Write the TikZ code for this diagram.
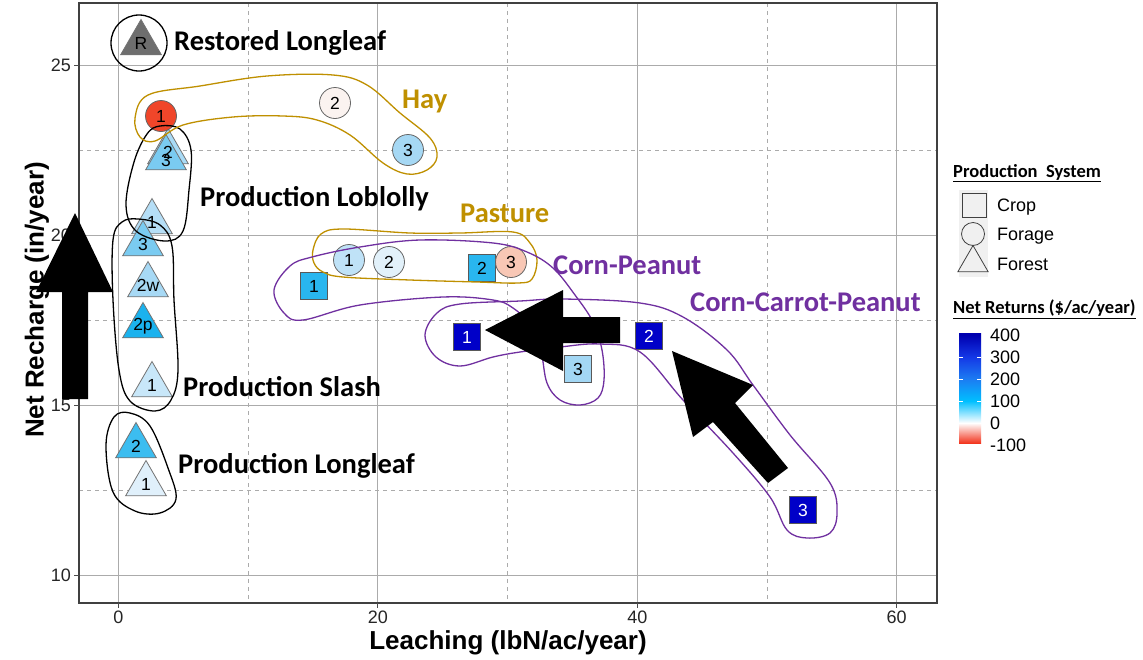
\documentclass[tikz,border=0pt]{standalone}
\usepackage{fontspec}
\setmainfont{Liberation Sans}
\newfontfamily\carl{Carlito}
\usetikzlibrary{shapes.geometric}
\definecolor{gold}{HTML}{BF9000}
\definecolor{purp}{HTML}{7030A0}
\definecolor{cred}{HTML}{F2361F}
\definecolor{dsb}{HTML}{00BFFF}
\definecolor{cb200}{HTML}{1C7CF2}
\definecolor{cb300}{HTML}{1438E6}
\definecolor{cb400}{HTML}{0000B0}
\definecolor{flob2}{HTML}{A9DBF6}
\definecolor{fmid}{HTML}{7ACBF1}
\definecolor{flob1}{HTML}{B5DEF6}
\definecolor{fsl2w}{HTML}{A7D9F5}
\definecolor{fsl2p}{HTML}{1AB2EE}
\definecolor{fsl1}{HTML}{C8E7F9}
\definecolor{fll2}{HTML}{3CBDF0}
\definecolor{fll1}{HTML}{E0F0FB}
\definecolor{fhay1}{HTML}{F0462A}
\definecolor{fhay2}{HTML}{FBF3F0}
\definecolor{fhay3}{HTML}{A6D8F4}
\definecolor{fpas1}{HTML}{BFE2F7}
\definecolor{fpas2}{HTML}{E2F1FA}
\definecolor{fpas3}{HTML}{F8C7B5}
\definecolor{fcp}{HTML}{29B6EF}
\definecolor{fcp3}{HTML}{A3D7F4}
\definecolor{fccp}{HTML}{0000C8}
\pgfdeclareverticalshading{netret}{100bp}{color(0bp)=(cred); color(25bp)=(cred); color(34.1bp)=(white); color(44.1bp)=(dsb); color(54.1bp)=(cb200); color(64.1bp)=(cb300); color(74.1bp)=(cb400); color(100bp)=(cb400)}
\begin{document}
\begin{tikzpicture}[x=1pt,y=-1pt,
  gmaj/.style={draw=black!33, line width=1.1},
  gmin/.style={draw=black!33, line width=1.0, dash pattern=on 4pt off 4pt},
  tickl/.style={font=\fontsize{18}{20}\selectfont, text=black!85, inner sep=0},
  axt/.style={font=\bfseries\fontsize{26}{28}\selectfont, inner sep=0},
  lab/.style={font=\carl\bfseries\fontsize{28.5}{31}\selectfont, anchor=west, inner sep=0},
  ptf/.style={font=\fontsize{17.5}{19}\selectfont, inner sep=0},
  fpt/.style={circle, draw=black!60, line width=0.8, minimum size=31pt, inner sep=0, ptf},
  cpt/.style={rectangle, draw=black!65, line width=0.8, minimum size=27pt, inner sep=0, ptf},
  tpt/.style={regular polygon, regular polygon sides=3, draw=black!55, line width=0.8, minimum size=47pt, inner sep=0},
  kloop/.style={draw=black, line width=1.3},
  gloop/.style={draw=gold, line width=1.3},
  ploop/.style={draw=purp, line width=1.3},
  legt/.style={font=\carl\bfseries\fontsize{18.5}{21}\selectfont, anchor=west, inner sep=0},
  legl/.style={font=\fontsize{18}{20}\selectfont, anchor=west, inner sep=0},
  bigarrow/.style={fill=black}]
\useasboundingbox (0,0) rectangle (1143,659);
\fill[white] (0,0) rectangle (1143,659);
% grid
\foreach \v in {12.5,17.5,22.5} \draw[gmin] (79,{575.3-34*(\v-10)}) -- (937,{575.3-34*(\v-10)});
\foreach \v in {10,30,50} \draw[gmin] ({118.5+12.97*\v},3) -- ({118.5+12.97*\v},603);
\foreach \v in {10,15,20,25} \draw[gmaj] (79,{575.3-34*(\v-10)}) -- (937,{575.3-34*(\v-10)});
\foreach \v in {0,20,40,60} \draw[gmaj] ({118.5+12.97*\v},3) -- ({118.5+12.97*\v},603);
\draw[line width=1.3, black!75] (79,3) rectangle (937,603);
% ticks
\foreach \v in {10,15,20,25} {
  \draw[line width=1, black!70] (74,{575.3-34*(\v-10)}) -- (79,{575.3-34*(\v-10)});
  \node[tickl, anchor=east] (yt\v) at (71,{575.3-34*(\v-10)}) {\v};
}
\foreach \v in {0,20,40,60} {
  \draw[line width=1, black!70] ({118.5+12.97*\v},603) -- ({118.5+12.97*\v},608);
  \node[tickl, anchor=north] (xt\v) at ({118.5+12.97*\v},611) {\v};
}
\node[axt] (xtitle) at (508,643) {Leaching (lbN/ac/year)};
\node[axt, rotate=90] (ytitle) at (37,300) {Net Recharge (in/year)};
% forest points
\node[tpt, fill=black!57] (rl) at (141,43) {};
\node[tpt, fill=flob2] (lob2) at (168,152) {};
\node[tpt, fill=fmid] (lob3) at (166,158) {};
\node[tpt, fill=flob1] (lob1) at (152,222) {};
\node[tpt, fill=fmid] (sl3) at (143,244) {};
\node[tpt, fill=fsl2w] (sl2w) at (148,285) {};
\node[tpt, fill=fsl2p] (sl2p) at (143,326) {};
\node[tpt, fill=fsl1] (sl1) at (152,385) {};
\node[tpt, fill=fll2] (ll2) at (136,446) {};
\node[tpt, fill=fll1] (ll1) at (146,484) {};
\node[ptf] (rlt) at (rl) {R};
\node[ptf] (lob2t) at (lob2) {2};
\node[ptf] (lob3t) at ([yshift=-2pt]lob3) {3};
\node[ptf] (lob1t) at (lob1) {1};
\node[ptf] (sl3t) at (sl3) {3};
\node[ptf] (sl2wt) at (sl2w) {2w};
\node[ptf] (sl2pt) at (sl2p) {2p};
\node[ptf] (sl1t) at (sl1) {1};
\node[ptf] (ll2t) at (ll2) {2};
\node[ptf] (ll1t) at (ll1) {1};
% forage points
\node[fpt, fill=fhay1] (hay1) at (161,116) {1};
\node[fpt, fill=fhay2] (hay2) at (335,103) {2};
\node[fpt, fill=fhay3] (hay3) at (408,150) {3};
\node[fpt, fill=fpas1] (pas1) at (349,260) {1};
\node[fpt, fill=fpas2] (pas2) at (389,262) {2};
% crop points
\node[cpt, fill=fcp] (cp1) at (314,286) {1};
\node[cpt, fill=fcp] (cp2) at (482,268) {2};
\node[fpt, fill=fpas3] (pas3) at (511,262) {3};
\node[cpt, fill=fcp3] (cp3) at (578,369) {3};
\node[cpt, fill=fccp, text=white] (ccp1) at (467,337) {1};
\node[cpt, fill=fccp, text=white] (ccp2) at (649,336) {2};
\node[cpt, fill=fccp, text=white] (ccp3) at (803,510) {3};
% loops
\draw[kloop] (139,43) circle (28);
\draw[kloop] plot[smooth cycle, tension=0.6] coordinates {(160,126) (180,129) (191,150) (189,190) (183,231) (165,241) (136,231) (126,205) (134,162) (147,134)};
\draw[kloop] plot[smooth cycle, tension=0.6] coordinates {(138,219) (160,225) (172,246) (174,300) (178,370) (171,400) (155,411) (130,401) (119,370) (113,300) (113,240) (122,222)};
\draw[kloop] plot[smooth cycle, tension=0.6] coordinates {(130,413) (150,426) (168,468) (176,499) (160,513) (135,511) (113,492) (106,445) (114,417)};
\draw[gloop] plot[smooth cycle, tension=0.6] coordinates {(135,118) (148,95) (200,86) (267,76) (333,75) (367,85) (400,113) (430,138) (437,157) (427,170) (407,174) (383,163) (350,135) (317,120) (283,116) (233,117) (183,125) (155,141) (140,137)};
\draw[gloop] plot[smooth cycle, tension=0.6] coordinates {(313,250) (321,234) (343,229) (410,233) (460,233) (513,232) (530,243) (537,260) (532,279) (518,283) (477,282) (410,280) (343,277) (323,272) (314,263)};
\draw[ploop] plot[smooth cycle, tension=0.6] coordinates {(274,290) (290,266) (312,257) (360,247) (420,240) (493,243) (527,252) (553,268) (575,295) (593,322) (602,350) (604,380) (598,398) (580,405) (560,400) (547,383) (541,352) (530,325) (513,308) (493,300) (443,297) (360,305) (303,320) (284,313)};
\draw[ploop] plot[smooth cycle, tension=0.6] coordinates {(425,335) (437,313) (460,304) (520,301) (563,299) (640,303) (683,317) (727,350) (753,385) (790,435) (830,483) (837,513) (830,533) (807,538) (787,530) (770,497) (733,453) (683,400) (640,352) (600,344) (560,347) (520,352) (493,357) (460,366) (436,357)};
% labels
\node[lab] (lrl) at (174,43) {Restored Longleaf};
\node[lab] (llob) at (200,199) {Production Loblolly};
\node[lab] (lsl) at (183,387) {Production Slash};
\node[lab] (lll) at (178,466) {Production Longleaf};
\node[lab, text=gold] (lhay) at (402,101) {Hay};
\node[lab, text=gold] (lpas) at (460,213) {Pasture};
\node[lab, text=purp] (lcp) at (553,265) {Corn-Peanut};
\node[lab, text=purp] (lccp) at (690,302) {Corn-Carrot-Peanut};
% big arrows
\fill[bigarrow] (75,213) -- (113,292) -- (88,292) -- (88,399) -- (62,399) -- (62,292) -- (36,292) -- cycle;
\fill[bigarrow] (485,330) -- (563,290) -- (563,317) -- (620,317) -- (620,343) -- (563,343) -- (563,371) -- cycle;
\fill[bigarrow] (672,351) -- (753,385) -- (735,403) -- (788,468) -- (768,483) -- (713,422) -- (693,437) -- cycle;
% legend
\node[legt] (lgt1) at (953,173) {\underline{Production\ \ System}};
\fill[black!6] (959,190) rectangle (988,277);
\node[rectangle, draw=black!75, fill=black!6, line width=0.8, minimum size=24pt, inner sep=0] (kcrop) at (974,205) {};
\node[circle, draw=black!75, fill=black!6, line width=0.8, minimum size=23pt, inner sep=0] (kfor) at (973,234) {};
\node[regular polygon, regular polygon sides=3, draw=black!75, fill=black!6, line width=0.8, minimum size=35pt, inner sep=0] (kfst) at (973,263) {};
\node[legl] (lcrop) at (997,207) {Crop};
\node[legl] (lforage) at (997,236) {Forage};
\node[legl] (lforest) at (997,264) {Forest};
\node[legt] (lgt2) at (953,309) {\underline{Net Returns (\$/ac/year)}};
\shade[shading=netret] (959,333) rectangle (981,443);
\foreach \yy in {357,379,401} {
  \draw[white, line width=0.8] (959,\yy) -- (963,\yy);
  \draw[white, line width=0.8] (977,\yy) -- (981,\yy);
}
\node[legl] (c400) at (990,335) {400};
\node[legl] (c300) at (990,357) {300};
\node[legl] (c200) at (990,379) {200};
\node[legl] (c100) at (990,401) {100};
\node[legl] (c0) at (990,423) {0};
\node[legl] (cm100) at (990,445) {-100};
\end{tikzpicture}
\end{document}
